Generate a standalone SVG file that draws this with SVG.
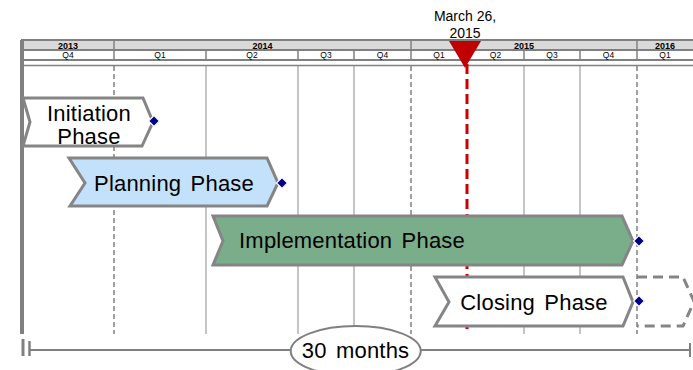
<svg xmlns="http://www.w3.org/2000/svg" width="693" height="370" viewBox="0 0 693 370">
<defs>
<style>
.hdr{fill:#fff;stroke:#808080;stroke-width:2}
.yr{fill:#d9d9d9;stroke:#808080;stroke-width:2}
.ytxt{font-family:"Liberation Sans",Arial,sans-serif;font-size:9px;font-weight:bold;fill:#000;text-anchor:middle}
.qtxt{font-family:"Liberation Sans",Arial,sans-serif;font-size:8.5px;fill:#000;text-anchor:middle}
.sep{stroke:#808080;stroke-width:1.5}
.grid{stroke:#8a8a8a;stroke-width:1;fill:none}
.dash{stroke:#808080;stroke-width:1.5;stroke-dasharray:5,3;fill:none}
.phase{stroke:#858585;stroke-width:3;stroke-linejoin:miter}
.ptxt{font-family:"Liberation Sans",Arial,sans-serif;font-size:22px;fill:#000;text-anchor:middle;letter-spacing:0.2px;word-spacing:3px}
.dia{fill:#00008b;stroke:#fff;stroke-width:1.2}
</style>
</defs>
<rect width="693" height="370" fill="#fff"/>
<g id="header">
<rect class="yr" x="22" y="40" width="672" height="10"/>
<rect class="hdr" x="22" y="50" width="672" height="10"/>
<line class="sep" x1="22" y1="65.5" x2="693" y2="65.5"/>
<g class="sep">
<line x1="114" y1="40" x2="114" y2="60"/>
<line x1="411" y1="40" x2="411" y2="60"/>
<line x1="637" y1="40" x2="637" y2="60"/>
<line x1="206" y1="50" x2="206" y2="60"/>
<line x1="298" y1="50" x2="298" y2="60"/>
<line x1="354" y1="50" x2="354" y2="60"/>
<line x1="467" y1="50" x2="467" y2="60"/>
<line x1="524" y1="50" x2="524" y2="60"/>
<line x1="580" y1="50" x2="580" y2="60"/>
</g>
<text class="ytxt" x="68" y="48.5">2013</text>
<text class="ytxt" x="262.5" y="48.5">2014</text>
<text class="ytxt" x="524" y="48.5">2015</text>
<text class="ytxt" x="665" y="48.5">2016</text>
<text class="qtxt" x="68" y="58">Q4</text>
<text class="qtxt" x="160" y="58">Q1</text>
<text class="qtxt" x="252" y="58">Q2</text>
<text class="qtxt" x="326" y="58">Q3</text>
<text class="qtxt" x="382.5" y="58">Q4</text>
<text class="qtxt" x="439" y="58">Q1</text>
<text class="qtxt" x="495.5" y="58">Q2</text>
<text class="qtxt" x="552" y="58">Q3</text>
<text class="qtxt" x="608.5" y="58">Q4</text>
<text class="qtxt" x="665" y="58">Q1</text>
</g>
<g id="grid">
<line class="dash" x1="114" y1="66" x2="114" y2="334"/>
<line class="grid" x1="206" y1="66" x2="206" y2="334"/>
<line class="grid" x1="298" y1="66" x2="298" y2="334"/>
<line class="grid" x1="354" y1="66" x2="354" y2="327" stroke-width="2" stroke="#7a7a7a"/>
<line class="dash" x1="411" y1="66" x2="411" y2="334"/>
<line class="grid" x1="524" y1="66" x2="524" y2="334"/>
<line class="grid" x1="580" y1="66" x2="580" y2="334"/>
<line class="dash" x1="637" y1="66" x2="637" y2="334"/>
<line x1="22" y1="40" x2="22" y2="334" stroke="#808080" stroke-width="4"/>
</g>
<g id="today">
<line x1="467" y1="64" x2="467" y2="334" stroke="#cc0000" stroke-width="3" stroke-dasharray="10,5"/>
<polygon points="449,41 481,41 465,68" fill="#c00000"/>
<text font-family="'Liberation Sans',Arial,sans-serif" font-size="14" text-anchor="middle" x="465" y="21">March 26,</text>
<text font-family="'Liberation Sans',Arial,sans-serif" font-size="14" text-anchor="middle" x="465" y="37.5">2015</text>
</g>
<g id="initiation">
<path class="phase" fill="#fff" d="M23,98 L143,98 L153,122 L142,146 L23,146 L30,122 Z"/>
<text class="ptxt" x="89" y="120.5">Initiation</text>
<text class="ptxt" x="89" y="143.5">Phase</text>
<polygon class="dia" points="154,115.5 159.5,121 154,126.5 148.5,121"/>
</g>
<g id="planning">
<path class="phase" fill="#c4e1fb" d="M69,158 L267,158 L278,183 L267,206 L70,206 L85,183 Z"/>
<text class="ptxt" x="174" y="190.5">Planning Phase</text>
<polygon class="dia" points="282,177.5 287.5,183 282,188.5 276.5,183"/>
</g>
<g id="implementation">
<path class="phase" fill="#7aad8a" d="M213,216 L622,216 L633,241 L622,265 L213,265 L223,241 Z"/>
<text class="ptxt" x="352" y="248">Implementation Phase</text>
<polygon class="dia" points="639,235.5 644.5,241 639,246.5 633.5,241"/>
</g>
<g id="closing">
<path d="M637,277 L683,277 L694,301.5 L683,326 L637,326" fill="none" stroke="#858585" stroke-width="3" stroke-dasharray="10,6"/>
<path class="phase" fill="#fff" stroke-width="4" d="M435,277 L623,277 L633,302 L623,326 L435,326 L449,302 Z"/>
<text class="ptxt" x="534" y="310">Closing Phase</text>
<polygon class="dia" points="639,295.5 644.5,301 639,306.5 633.5,301"/>
</g>
<g id="duration">
<line x1="23" y1="339" x2="23" y2="356" stroke="#808080" stroke-width="3"/>
<line x1="29.5" y1="341" x2="29.5" y2="356" stroke="#808080" stroke-width="2.5"/>
<line x1="30" y1="350" x2="690" y2="350" stroke="#808080" stroke-width="2"/>
<line x1="690" y1="343" x2="690" y2="357" stroke="#808080" stroke-width="2"/>
<ellipse cx="355.7" cy="351" rx="65" ry="25" fill="#fff" stroke="#808080" stroke-width="2"/>
<text class="ptxt" x="355.5" y="358">30 months</text>
</g>
</svg>
